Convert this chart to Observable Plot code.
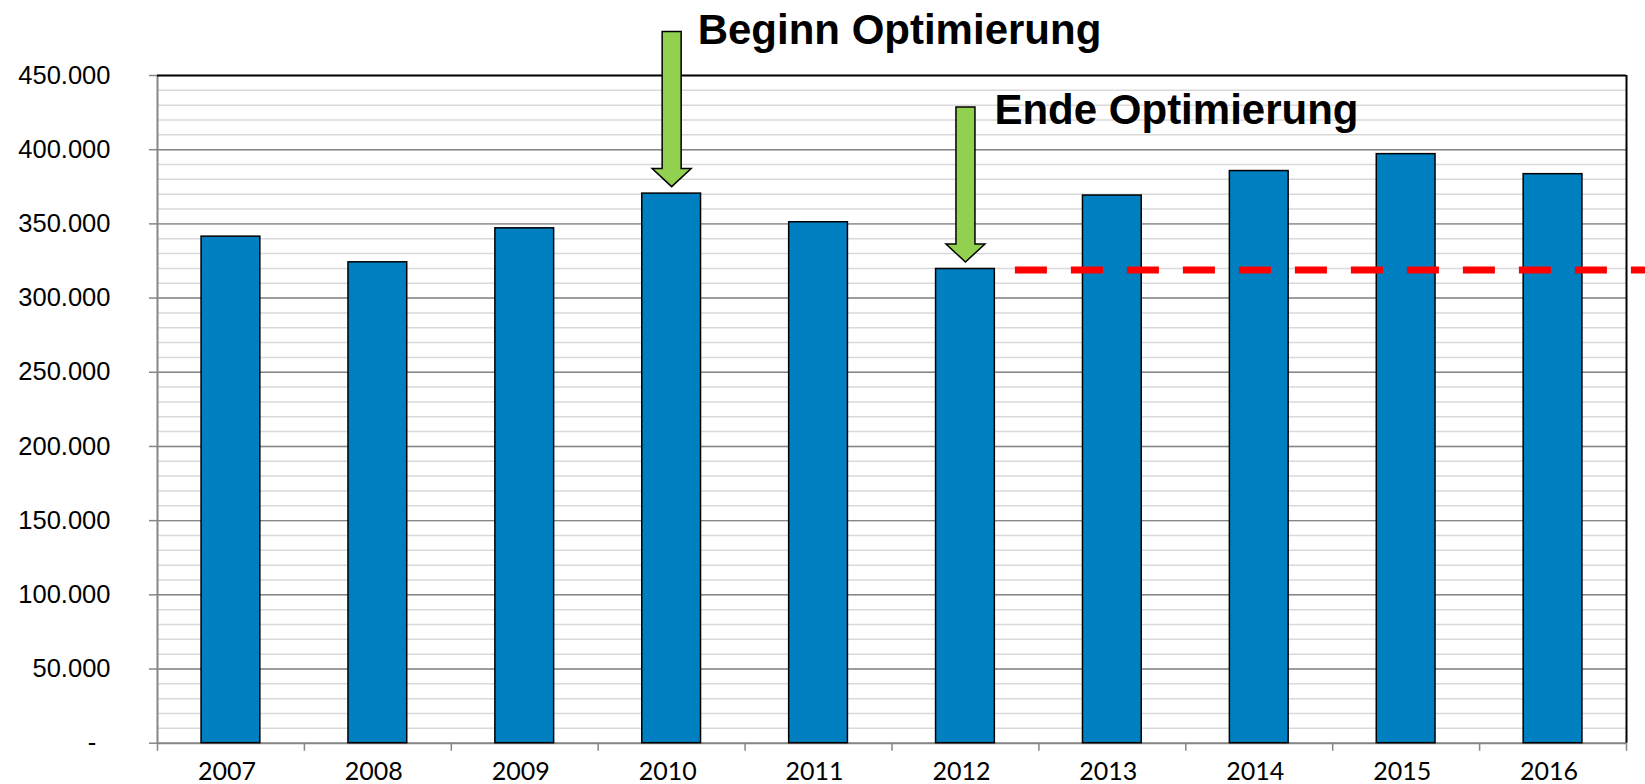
<!DOCTYPE html>
<html>
<head>
<meta charset="utf-8">
<script src="https://cdn.jsdelivr.net/npm/d3@7"></script>
<script src="https://cdn.jsdelivr.net/npm/@observablehq/plot@0.6"></script>
<style>
html, body { margin: 0; padding: 0; background: #fff; }
svg { display: block; }
</style>
</head>
<body>
<div id="chart"></div>
<script>
// ---- data ----
const years = [2007, 2008, 2009, 2010, 2011, 2012, 2013, 2014, 2015, 2016];
const yearLabels = ["2007", "2008", "2009", "2010", "2011", "2012", "2013", "2014", "2015", "2016"];
const values = [341400, 324100, 347000, 370400, 351100, 319600, 369100, 385600, 397000, 383500];
const yTicks = [0, 50000, 100000, 150000, 200000, 250000, 300000, 350000, 400000, 450000];
const yTickLabels = ["-", "50.000", "100.000", "150.000", "200.000", "250.000", "300.000", "350.000", "400.000", "450.000"];
const minorStep = 10000;
const targetValue = [318900];
const targetFrom = [2012.34];
const targetTo = [2016.63];
const annotationYears = [2010, 2012];
const annotationLabels = ["Beginn Optimierung", "Ende Optimierung"];

// ---- derived tables ----
const data = years.map((year, i) => ({year, value: values[i]}));
const annotations = annotationYears.map((year, i) => ({
  year, value: values[years.indexOf(year)], label: annotationLabels[i]
}));
const target = targetValue.map((v, i) => ({value: v, from: targetFrom[i], to: targetTo[i]}));
const yMax = yTicks[yTicks.length - 1];
const minorTicks = d3.range(0, yMax + 1, minorStep);
const xMin = years[0] - 0.5, xMax = years[years.length - 1] + 0.5;
const boundaries = d3.range(years.length + 1).map(i => xMin + i);

const blockArrow = {
  draw(ctx, l) {
    const sw = 9.5, hw = 19.5, hl = 18;
    ctx.moveTo(-sw, 0);
    ctx.lineTo(-sw, -(l - hl));
    ctx.lineTo(-hw, -(l - hl));
    ctx.lineTo(0, -l);
    ctx.lineTo(hw, -(l - hl));
    ctx.lineTo(sw, -(l - hl));
    ctx.lineTo(sw, 0);
    ctx.closePath();
  }
};

const sans = "'Liberation Sans', Arial, sans-serif";

const chart = Plot.plot({
  width: 1645,
  height: 784,
  marginLeft: 157,
  marginRight: 19,
  marginTop: 75,
  marginBottom: 41.3,
  style: {background: "white", overflow: "visible", fontFamily: sans},
  x: {type: "linear", domain: [xMin, xMax], label: null},
  y: {domain: [0, yMax], label: null},
  marks: [
    Plot.ruleY(minorTicks, {stroke: "#d9d9d9", strokeWidth: 1.5}),
    Plot.ruleY(yTicks.filter(d => d > 0 && d < yMax), {stroke: "#868686", strokeWidth: 1.4}),
    Plot.ruleY([0], {stroke: "#868686", strokeWidth: 2}),
    Plot.ruleX([xMin], {stroke: "#868686", strokeWidth: 2}),
    Plot.ruleY([yMax], {stroke: "#000", strokeWidth: 2}),
    Plot.ruleX([xMax], {stroke: "#000", strokeWidth: 2}),
    Plot.rectY(data, {
      x1: d => d.year - 0.2, x2: d => d.year + 0.2, y: "value",
      fill: "#0080c0", stroke: "#000", strokeWidth: 1.5
    }),
    Plot.ruleY(target, {
      y: "value", x1: "from", x2: "to",
      stroke: "#ff0000", strokeWidth: 7, strokeDasharray: "32,24"
    }),
    Plot.vector(annotations, {
      x: "year", y: "value", dy: -7, length: 155, rotate: 180, anchor: "end",
      shape: blockArrow, fill: "#92d050", stroke: "#000", strokeWidth: 1.5,
      strokeLinejoin: "miter", strokeLinecap: "butt"
    }),
    Plot.text(annotations.slice(0, 1), {
      x: "year", y: "value", text: "label", dx: 26, dy: -162.8,
      textAnchor: "start", fontSize: 42, fontWeight: "bold", fontFamily: sans, fill: "#000"
    }),
    Plot.text(annotations.slice(1, 2), {
      x: "year", y: "value", text: "label", dx: 29, dy: -158.1,
      textAnchor: "start", fontSize: 42, fontWeight: "bold", fontFamily: sans, fill: "#000"
    }),
    Plot.axisY(yTicks, {
      tickSize: 8, tickPadding: 39,
      tickFormat: d => yTickLabels[yTicks.indexOf(d)] + (d === 0 ? "\u00a0\u00a0" : ""),
      stroke: "#868686", strokeWidth: 1.5, fill: "#000",
      fontSize: 25.5, fontFamily: sans, label: null
    }),
    Plot.axisX(boundaries, {
      tickSize: 8, tickFormat: () => "", stroke: "#868686", strokeWidth: 1.5, label: null
    }),
    Plot.axisX(years, {
      tickSize: 0, tickPadding: 19.5, dx: -4,
      tickFormat: d => yearLabels[years.indexOf(d)],
      fill: "#000", fontSize: 25, fontFamily: "Lato, 'Open Sans', sans-serif", label: null
    })
  ]
});
document.getElementById("chart").appendChild(chart);
</script>
</body>
</html>
